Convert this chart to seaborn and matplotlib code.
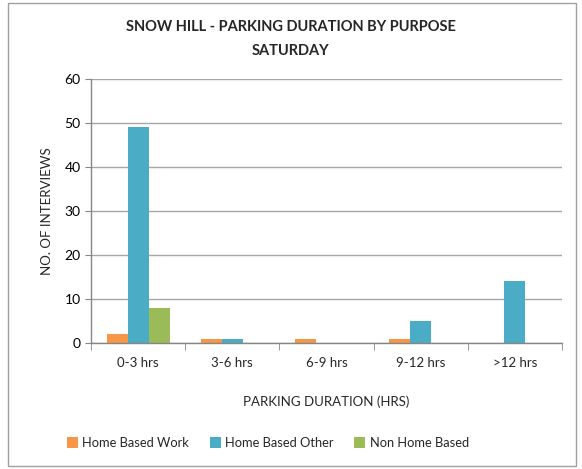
import matplotlib
matplotlib.use("Agg")
import matplotlib.pyplot as plt
import seaborn as sns
import pandas as pd
import numpy as np
from matplotlib.patches import Rectangle

categories = ["0-3 hrs", "3-6 hrs", "6-9 hrs", "9-12 hrs", ">12 hrs"]
series_names = ["Home Based Work", "Home Based Other", "Non Home Based"]
home_based_work = [2, 1, 1, 1, 0]
home_based_other = [49, 1, 0, 5, 14]
non_home_based = [8, 0, 0, 0, 0]
y_ticks = [0, 10, 20, 30, 40, 50, 60]
colors = ["#F79646", "#4BACC6", "#9BBB59"]

rows = []
for name, vals in zip(series_names, [home_based_work, home_based_other, non_home_based]):
    for c, v in zip(categories, vals):
        rows.append({"Duration": c, "Purpose": name, "Count": v})
df = pd.DataFrame(rows)

sns.set_style("white")
plt.rcParams['font.family'] = ['Lato', 'DejaVu Sans']

fig = plt.figure(figsize=(5.82, 4.69), dpi=100)
ax = fig.add_axes([91/582, 1-343/469, (562-91)/582, (343-79)/469])

sns.barplot(data=df, x="Duration", y="Count", hue="Purpose", order=categories,
            hue_order=series_names, palette=colors, width=0.67, ax=ax,
            saturation=1, legend=True, linewidth=0, edgecolor="none")

ax.set_ylim(0, 60)
ax.set_xlim(-0.5, 4.5)
ax.set_yticks(y_ticks)
ax.yaxis.grid(True, color="#A6A6A6", linewidth=1)
ax.set_axisbelow(True)
for s in ["top", "right"]:
    ax.spines[s].set_visible(False)
for s in ["left", "bottom"]:
    ax.spines[s].set_color("#868686")
    ax.spines[s].set_linewidth(1)
ax.tick_params(axis="y", which="major", length=4, color="#868686", left=True, labelsize=10, labelcolor="#000000")
ax.tick_params(axis="x", which="major", length=0, labelsize=9.5, pad=10)
ax.set_xticks(np.arange(-0.5, 5, 1), minor=True)
ax.tick_params(axis="x", which="minor", length=5, color="#868686", bottom=True)

ax.set_xlabel("PARKING DURATION (HRS)", fontsize=9.5, labelpad=19)
ax.set_ylabel("NO. OF INTERVIEWS", fontsize=9.5, labelpad=8)

fig.text(0.5, 1-39/469, "SNOW HILL - PARKING DURATION BY PURPOSE\nSATURDAY",
         ha="center", va="center", fontsize=10.5, fontweight="bold", linespacing=1.95)

handles, labels = ax.get_legend_handles_labels()
ax.legend_.remove()
fig.legend(handles, labels, loc="center", bbox_to_anchor=(268/582, 1-443/469), ncol=3,
           frameon=False, fontsize=9.3, handlelength=0.85, handleheight=0.85,
           columnspacing=1.6, handletextpad=0.35)

fig.patches.append(Rectangle((8/582, 3/469), (576-8)/582, (466-3)/469,
                             transform=fig.transFigure, fill=False,
                             edgecolor="#A0A0A0", linewidth=1))

fig.savefig("out.png", dpi=100)
